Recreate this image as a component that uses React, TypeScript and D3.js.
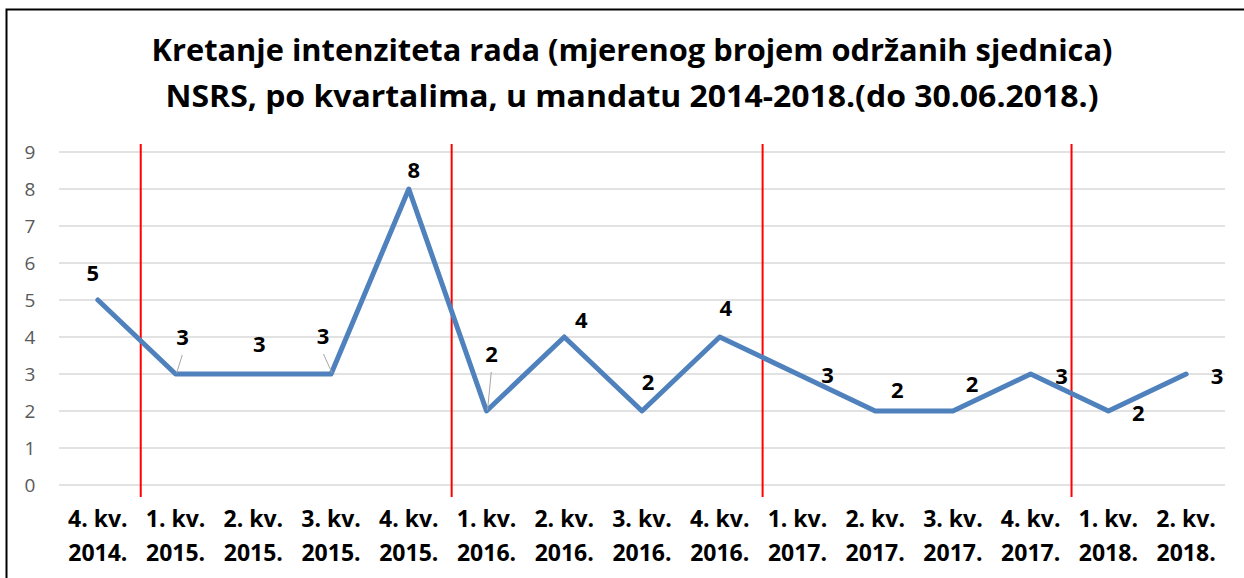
import React, { useEffect, useRef } from 'react'
import * as d3 from 'd3'

const titleLines = [
  'Kretanje intenziteta rada (mjerenog brojem održanih sjednica)',
  'NSRS, po kvartalima, u mandatu 2014-2018.(do 30.06.2018.)',
]

const quarters = ['4. kv.', '1. kv.', '2. kv.', '3. kv.', '4. kv.', '1. kv.', '2. kv.', '3. kv.', '4. kv.', '1. kv.', '2. kv.', '3. kv.', '4. kv.', '1. kv.', '2. kv.']
const years = ['2014.', '2015.', '2015.', '2015.', '2015.', '2016.', '2016.', '2016.', '2016.', '2017.', '2017.', '2017.', '2017.', '2018.', '2018.']
const sessions = [5, 3, 3, 3, 8, 2, 4, 2, 4, 3, 2, 2, 3, 2, 3]
const yTicks = [0, 1, 2, 3, 4, 5, 6, 7, 8, 9]

// first quarter of each new year gets a red separator
const yearStarts = [1, 5, 9, 13]

// label placement relative to the point (Excel moved some of them by hand)
const labelOffsets: Array<[number, number]> = [
  [-5, -27], [7, -37], [6, -30], [-8, -38], [5, -19],
  [5, -57], [17, -17], [6, -29], [6, -29], [30, 1],
  [22, -21], [19, -27], [31, 2], [30, 2], [31, 2],
]
const leaderLines = [1, 3, 5]

const W = 1244
const H = 578
const margin = { top: 152, right: 19, bottom: 93, left: 59 }

const App: React.FC = () => {
  const ref = useRef<SVGSVGElement>(null)

  useEffect(() => {
    if (!ref.current) return
    const svg = d3.select(ref.current)
    svg.selectAll('*').remove()

    const font = "'Open Sans', 'Liberation Sans', sans-serif"
    const innerW = W - margin.left - margin.right
    const innerH = H - margin.top - margin.bottom
    const idx = sessions.map((_, i) => String(i))

    const x = d3.scaleBand().domain(idx).range([0, innerW]).padding(0)
    const y = d3.scaleLinear().domain([0, 9]).range([innerH, 0])
    const cx = (i: number) => (x(String(i)) as number) + x.bandwidth() / 2

    svg.append('rect').attr('width', W).attr('height', H).attr('fill', '#fff')

    // chart area border (only top/left are inside the picture)
    svg
      .append('rect')
      .attr('x', 6.5)
      .attr('y', 9.5)
      .attr('width', W + 20)
      .attr('height', H + 20)
      .attr('fill', 'none')
      .attr('stroke', '#000')
      .attr('stroke-width', 2)

    const title = svg
      .append('text')
      .attr('font-family', font)
      .attr('font-weight', 700)
      .attr('font-size', 29.5)
      .attr('text-anchor', 'middle')
      .attr('fill', '#000')
    title
      .selectAll('tspan')
      .data(titleLines)
      .enter()
      .append('tspan')
      .attr('x', 632)
      .attr('y', (_, i) => 61 + i * 46)
      .attr('textLength', (_, i) => (i === 0 ? 961 : 933))
      .attr('lengthAdjust', 'spacingAndGlyphs')
      .text((d) => d)

    const g = svg.append('g').attr('transform', `translate(${margin.left},${margin.top})`)

    // gridlines
    g.append('g')
      .selectAll('line')
      .data(yTicks)
      .enter()
      .append('line')
      .attr('x1', 0)
      .attr('x2', innerW)
      .attr('y1', (d) => y(d))
      .attr('y2', (d) => y(d))
      .attr('stroke', '#d9d9d9')
      .attr('stroke-width', 1.5)

    // y axis labels
    g.append('g')
      .selectAll('text')
      .data(yTicks)
      .enter()
      .append('text')
      .attr('x', -29)
      .attr('y', (d) => y(d))
      .attr('dy', '0.36em')
      .attr('text-anchor', 'middle')
      .attr('font-family', font)
      .attr('font-size', 19)
      .attr('fill', '#595959')
      .text((d) => d)

    // x axis labels
    const xl = g
      .append('g')
      .selectAll('text')
      .data(idx)
      .enter()
      .append('text')
      .attr('text-anchor', 'middle')
      .attr('font-family', font)
      .attr('font-weight', 700)
      .attr('font-size', 23)
      .attr('fill', '#000')
    xl.append('tspan')
      .attr('x', (_, i) => cx(i))
      .attr('y', innerH + 42)
      .text((_, i) => quarters[i])
    xl.append('tspan')
      .attr('x', (_, i) => cx(i))
      .attr('y', innerH + 76)
      .text((_, i) => years[i])

    // year separators
    g.append('g')
      .selectAll('line')
      .data(yearStarts)
      .enter()
      .append('line')
      .attr('x1', (d, k) => (x(String(d)) as number) + (k === 3 ? 2 : 4))
      .attr('x2', (d, k) => (x(String(d)) as number) + (k === 3 ? 2 : 4))
      .attr('y1', -8)
      .attr('y2', innerH + 12)
      .attr('stroke', '#ff0000')
      .attr('stroke-width', 2)

    // series line
    const line = d3
      .line<number>()
      .x((_, i) => cx(i))
      .y((d) => y(d))
    g.append('path')
      .datum(sessions)
      .attr('d', line)
      .attr('fill', 'none')
      .attr('stroke', '#4f81bd')
      .attr('stroke-width', 5)
      .attr('stroke-linejoin', 'round')
      .attr('stroke-linecap', 'round')

    // leader lines
    g.append('g')
      .selectAll('line')
      .data(leaderLines)
      .enter()
      .append('line')
      .attr('x1', (i) => cx(i) + 1)
      .attr('y1', (i) => y(sessions[i]) - 1)
      .attr('x2', (i) => cx(i) + labelOffsets[i][0] * 0.95)
      .attr('y2', (i) => y(sessions[i]) + labelOffsets[i][1] + 18)
      .attr('stroke', '#a6a6a6')
      .attr('stroke-width', 1)

    // data labels
    g.append('g')
      .selectAll('text')
      .data(sessions)
      .enter()
      .append('text')
      .attr('x', (_, i) => cx(i) + labelOffsets[i][0])
      .attr('y', (d, i) => y(d) + labelOffsets[i][1])
      .attr('dy', '0.36em')
      .attr('text-anchor', 'middle')
      .attr('font-family', font)
      .attr('font-weight', 700)
      .attr('font-size', 22)
      .attr('fill', '#000')
      .text((d) => d)
  }, [])

  return (
    <div style={{ position: 'absolute', left: 0, top: 0 }}>
      <svg ref={ref} width={W} height={H} style={{ display: 'block' }} />
    </div>
  )
}

export default App
